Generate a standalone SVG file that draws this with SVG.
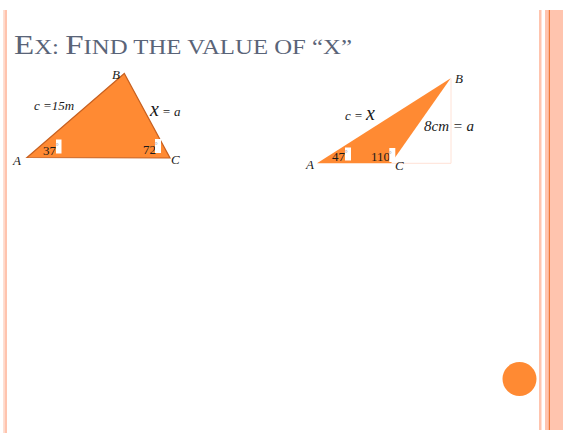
<svg xmlns="http://www.w3.org/2000/svg" width="563" height="433" viewBox="0 0 563 433">
<style>
.lbl{font-family:"Liberation Serif",serif;font-style:italic;fill:#1a1a1a}
.num{font-family:"Liberation Serif",serif;fill:#1a1a1a;font-size:13px}
.deg{font-family:"Liberation Serif",serif;fill:#999;font-size:8px}
.title{font-family:"Liberation Serif",serif;fill:#5A6478}
.tri{fill:#FF8A33}
</style>
<rect width="563" height="433" fill="#fff"/>
<!-- frame decorations -->
<rect x="3" y="10" width="1.5" height="423" fill="#FDE0D4"/>
<rect x="4.5" y="10" width="2.5" height="423" fill="#FFC4AE"/>
<rect x="539" y="10" width="2.5" height="420" fill="#FFC4AE"/>
<rect x="545" y="10" width="18" height="420" fill="#FFC4AE"/>
<rect x="548.8" y="10" width="1.2" height="420" fill="#F07A3A"/>
<circle cx="519.5" cy="379" r="17" fill="#FF8A33"/>
<!-- title -->
<text class="title" x="14" y="54" textLength="338" lengthAdjust="spacingAndGlyphs"><tspan font-size="28">E</tspan><tspan font-size="21">X: </tspan><tspan font-size="28">F</tspan><tspan font-size="21">IND THE VALUE OF “X”</tspan></text>
<!-- triangle 1 -->
<g id="triangle1">
<polygon class="tri" points="27,157.5 124.3,73.5 170,158" stroke="#C8601F" stroke-width="1.2"/>
<text class="lbl" x="112" y="79" font-size="13">B</text>
<text class="lbl" x="13" y="165" font-size="13">A</text>
<text class="lbl" x="171" y="164" font-size="13">C</text>
<text class="lbl" x="34" y="110" font-size="13">c =15m</text>
<text class="lbl" x="150" y="116" font-size="20">x</text>
<text class="lbl" x="162" y="116" font-size="13">= a</text>
<text class="num" x="43" y="155">37</text>
<rect x="56" y="139.5" width="5.5" height="14" fill="#fff"/>
<text class="deg" x="55.5" y="149">°</text>
<text class="num" x="143" y="154">72</text>
<rect x="155" y="139" width="6" height="14" fill="#fff"/>
<text class="deg" x="154.5" y="148">°</text>
</g>
<!-- triangle 2 -->
<g id="triangle2">
<polyline points="391,163.3 451,163.3 451,78.5" fill="none" stroke="#FFE2D6" stroke-width="1"/>
<polygon class="tri" points="317,163.3 450.7,78.3 391,163.3"/>
<text class="lbl" x="455" y="83" font-size="13">B</text>
<text class="lbl" x="306" y="169" font-size="13">A</text>
<text class="lbl" x="395" y="170" font-size="13">C</text>
<text class="lbl" x="345" y="120" font-size="13">c =</text>
<text class="lbl" x="366" y="120" font-size="20">x</text>
<text class="lbl" x="424" y="131" font-size="15">8cm = a</text>
<text class="num" x="332" y="161">47</text>
<rect x="345" y="147.5" width="6" height="13" fill="#fff"/>
<text class="deg" x="344.5" y="156">°</text>
<text class="num" x="371" y="161">110</text>
<rect x="389.3" y="148" width="6" height="14" fill="#fff"/>
<text class="deg" x="388.5" y="157">°</text>
</g>
</svg>
